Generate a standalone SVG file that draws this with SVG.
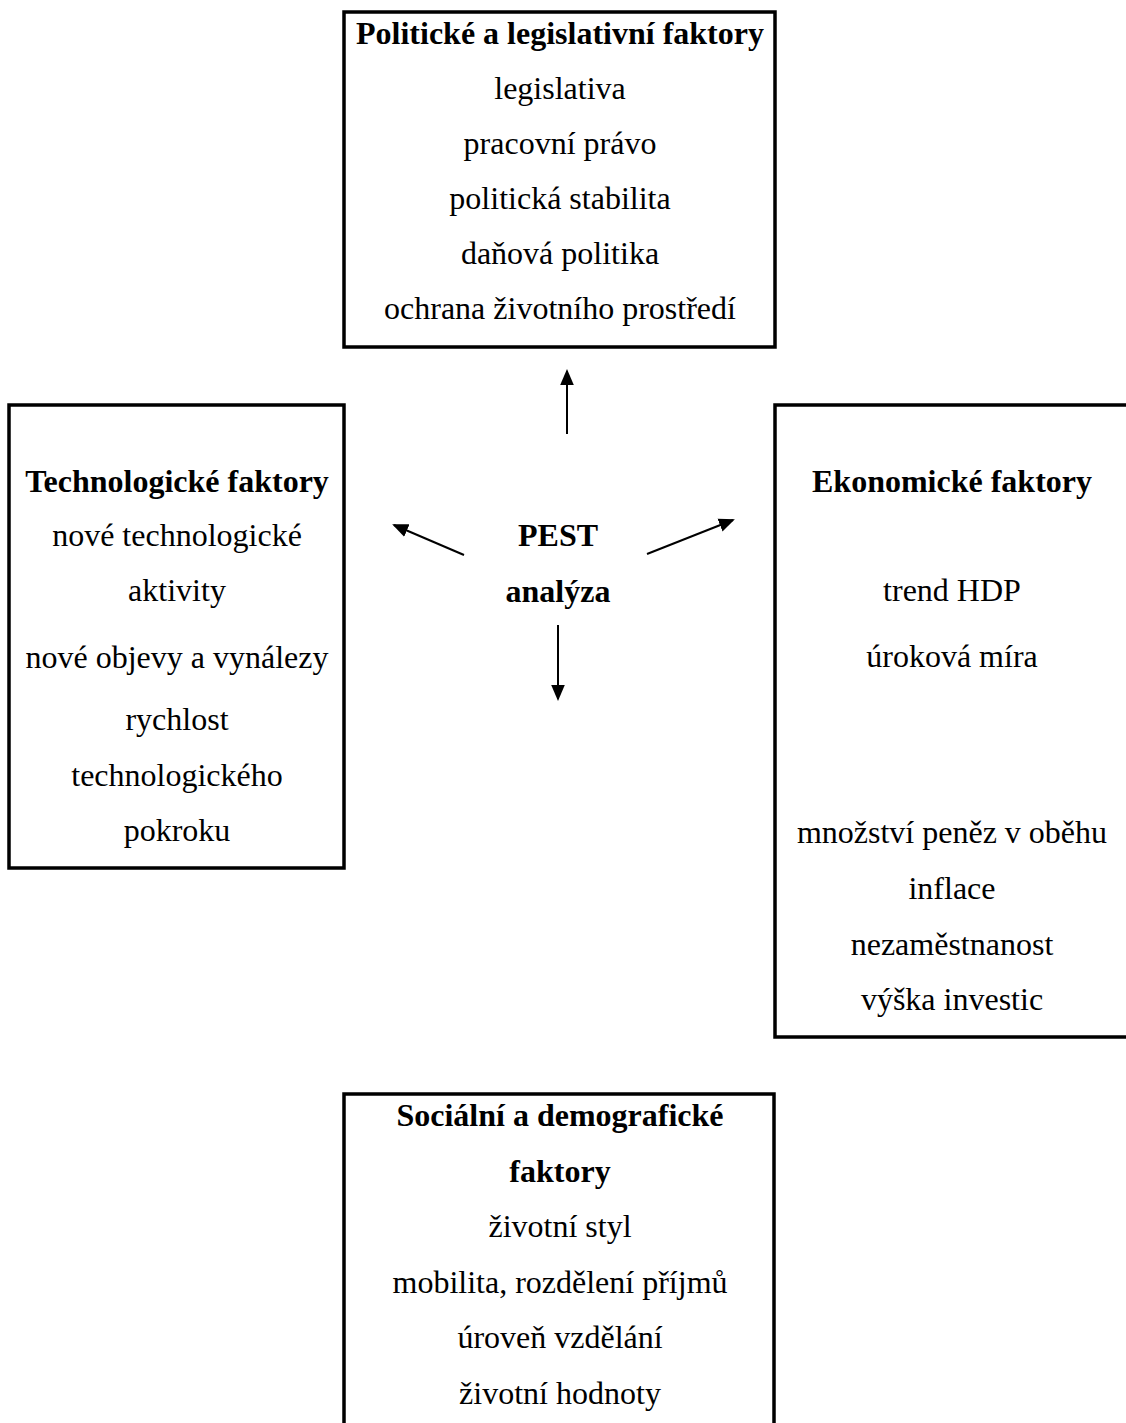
<svg xmlns="http://www.w3.org/2000/svg" width="1126" height="1423" viewBox="0 0 1126 1423">
<style>
.box{fill:#fff;stroke:#000;stroke-width:3.5}
text{font-family:"Liberation Serif","Times New Roman",serif;font-size:32px;fill:#000;text-anchor:middle}
.b{font-weight:bold}
.conn{stroke:#000;stroke-width:2;fill:none}
</style>
<defs>
<marker id="ah" markerWidth="8" markerHeight="8" refX="7" refY="4" orient="auto" markerUnits="strokeWidth">
<path d="M0,0.6 L8,4 L0,7.4 Z" fill="#000"/>
</marker>
</defs>
<rect width="1126" height="1423" fill="#fff"/>
<g id="political">
<rect class="box" x="344" y="12" width="431" height="335"/>
<text class="b" x="560" y="44">Politické a legislativní faktory</text>
<text x="560" y="99">legislativa</text>
<text x="560" y="154">pracovní právo</text>
<text x="560" y="209">politická stabilita</text>
<text x="560" y="264">daňová politika</text>
<text x="560" y="319">ochrana životního prostředí</text>
</g>
<g id="technological">
<rect class="box" x="9" y="405" width="335" height="463"/>
<text class="b" x="177" y="492">Technologické faktory</text>
<text x="177" y="546">nové technologické</text>
<text x="177" y="601">aktivity</text>
<text x="177" y="668">nové objevy a vynálezy</text>
<text x="177" y="730">rychlost</text>
<text x="177" y="786">technologického</text>
<text x="177" y="841">pokroku</text>
</g>
<g id="economic">
<rect class="box" x="775" y="405" width="370" height="632"/>
<text class="b" x="952" y="492">Ekonomické faktory</text>
<text x="952" y="601">trend HDP</text>
<text x="952" y="667">úroková míra</text>
<text x="952" y="843">množství peněz v oběhu</text>
<text x="952" y="899">inflace</text>
<text x="952" y="955">nezaměstnanost</text>
<text x="952" y="1010">výška investic</text>
</g>
<g id="social">
<rect class="box" x="344" y="1094" width="430" height="360"/>
<text class="b" x="560" y="1126">Sociální a demografické</text>
<text class="b" x="560" y="1182">faktory</text>
<text x="560" y="1237">životní styl</text>
<text x="560" y="1293">mobilita, rozdělení příjmů</text>
<text x="560" y="1348">úroveň vzdělání</text>
<text x="560" y="1404">životní hodnoty</text>
</g>
<g id="center">
<text class="b" x="558" y="546">PEST</text>
<text class="b" x="558" y="602">analýza</text>
</g>
<g id="connectors">
<line class="conn" x1="567" y1="434" x2="567" y2="371" marker-end="url(#ah)"/>
<line class="conn" x1="464" y1="555" x2="394" y2="525" marker-end="url(#ah)"/>
<line class="conn" x1="647" y1="554" x2="733" y2="520" marker-end="url(#ah)"/>
<line class="conn" x1="558" y1="625" x2="558" y2="699" marker-end="url(#ah)"/>
</g>
</svg>
